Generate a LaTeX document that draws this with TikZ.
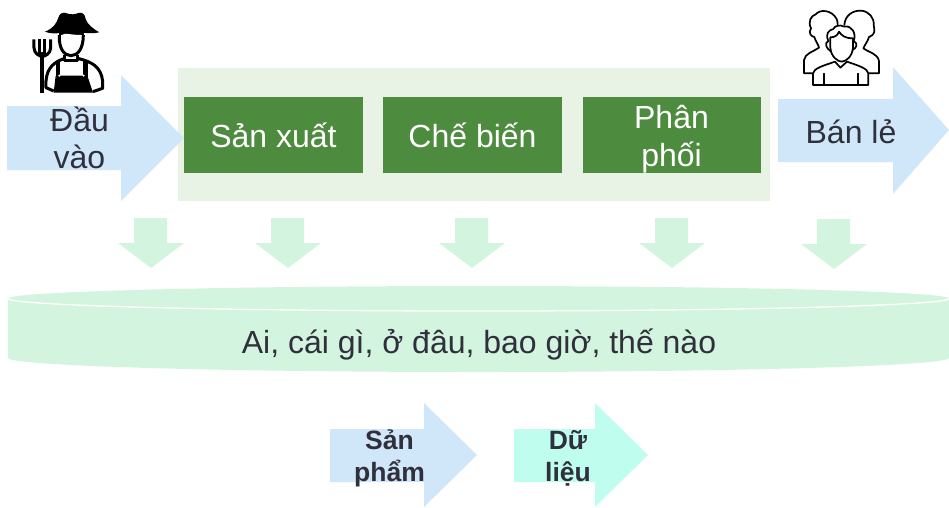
\documentclass[tikz,border=0pt]{standalone}
\usepackage{fontspec}
\setmainfont{Liberation Sans}
\definecolor{arrowblue}{HTML}{D0E6F9}
\definecolor{mint}{HTML}{BFFDEE}
\definecolor{pale}{HTML}{D3F4DE}
\definecolor{panel}{HTML}{E8F3E6}
\definecolor{boxgreen}{HTML}{4D8B3E}
\definecolor{ink}{HTML}{30303C}
\tikzset{
  big/.style={font=\fontsize{32}{37.5}\selectfont,text=ink,align=center,inner sep=0pt},
  boxlabel/.style={font=\fontsize{32}{38}\selectfont,text=white,align=center,inner sep=0pt},
  legendlabel/.style={font=\bfseries\fontsize{26.5}{32}\selectfont,text=ink,align=center,inner sep=0pt},
  stagebox/.style={draw=none,fill=boxgreen,minimum width=179pt,minimum height=76pt,inner sep=0pt},
  iconline/.style={draw=black,line width=1.7pt,line join=round,line cap=round},
  farmerline/.style={draw=black,line width=3pt,line join=round,line cap=butt},
}
\newcommand{\downarrowat}[2]{%
  \fill[pale] (#1-17,#2) -- (#1+16,#2) -- (#1+16,#2+25) -- (#1+33,#2+25) -- (#1,#2+50) -- (#1-33,#2+25) -- (#1-17,#2+25) -- cycle;}
\begin{document}
\begin{tikzpicture}[x=1pt,y=-1pt]
\useasboundingbox (0,0) rectangle (949,507);
% panel
\fill[panel] (178,68) rectangle (770,201);
% side arrows
\fill[arrowblue] (7,106) -- (121,106) -- (121,75) -- (184,138) -- (121,201) -- (121,170) -- (7,170) -- cycle;
\fill[arrowblue] (778,99) -- (893,99) -- (893,67) -- (949,130) -- (893,194) -- (893,162) -- (778,162) -- cycle;
% stage boxes
\node[stagebox] (prod) at (273.5,135) {};
\node[stagebox] (proc) at (472.5,135) {};
\node[stagebox,minimum width=178pt] (dist) at (672,135) {};
\node[boxlabel] (prodt) at (273.5,135.5) {Sản xuất};
\node[boxlabel] (proct) at (472.5,135.5) {Chế biến};
\node[boxlabel] (distt) at (671.5,139) {Phân\\phối};
\node[big] (input) at (79.5,138) {Đầu\\vào};
\node[big] (retail) at (851,132) {Bán lẻ};
% down arrows
\downarrowat{151}{218}
\downarrowat{288}{218}
\downarrowat{472}{218}
\downarrowat{672}{218}
\downarrowat{834}{219}
% cylinder
\fill[pale] (8,298.5) -- (8,358) arc[start angle=180,end angle=0,x radius=470.5,y radius=14] -- (949,298.5) -- cycle;
\fill[pale] (478.5,298.5) ellipse[x radius=470.5,y radius=12.5];
\draw[white,line width=1.3pt] (8,298.5) arc[start angle=180,end angle=0,x radius=470.5,y radius=12.5];
\node[big] (who) at (479,345) {Ai, cái gì, ở đâu, bao giờ, thế nào};
% legend
\fill[arrowblue] (330,429) -- (424,429) -- (424,403) -- (477,455) -- (424,507) -- (424,482) -- (330,482) -- cycle;
\fill[mint] (514,429) -- (595,429) -- (595,403) -- (648,455) -- (595,507) -- (595,482) -- (514,482) -- cycle;
\node[legendlabel] (lp) at (389.5,458) {Sản\\phẩm};
\node[legendlabel] (ld) at (568,458) {Dữ\\liệu};
% farmer icon
\begin{scope}[shift={(25,5)},x=0.3333pt,y=-0.3333pt]
  \fill[black] (60,80) .. controls (85,70) and (95,55) .. (100,38) .. controls (103,25) and (115,20) .. (125,25) .. controls (135,29) and (150,29) .. (160,24) .. controls (172,20) and (180,28) .. (182,42) .. controls (187,58) and (205,72) .. (223,82) .. controls (200,88) and (180,82) .. (140,82) .. controls (105,82) and (85,90) .. (60,80) -- cycle;
  \fill[black] (102,70) rectangle (176,92);
  \draw[farmerline,fill=white] (103,90) .. controls (101,130) and (117,152) .. (138,152) .. controls (159,152) and (175,130) .. (175,90);
  \fill[white] (110,90) .. controls (122,82) and (133,90) .. (168,90) -- (168,100) -- (110,100) -- cycle;
  % shoulders
  \draw[farmerline] (120,150) -- (120,166) -- (158,166) -- (158,150);
  \draw[farmerline] (120,160) .. controls (88,170) and (66,188) .. (63,228) -- (63,248) -- (86,258);
  \draw[farmerline] (158,160) .. controls (200,170) and (228,185) .. (233,228) -- (233,250) -- (204,260);
  % overalls
  \fill[black] (92,212) -- (187,212) -- (204,263) -- (86,263) -- cycle;
  \fill[black] (92,168) rectangle (106,215);
  \fill[black] (175,168) rectangle (189,215);
  \fill[white] (103,212) circle[radius=3.5];
  \fill[white] (176,212) circle[radius=3.5];
  % pitchfork
  \fill[black] (46,140) rectangle (58,263);
  \draw[black,line width=3pt] (27,103) -- (27,128) .. controls (27,146) and (44,154) .. (52,154) .. controls (60,154) and (77,146) .. (77,128) -- (77,103);
  \draw[black,line width=3pt] (44,103) -- (44,148);
  \draw[black,line width=3pt] (60,103) -- (60,148);
\end{scope}
% people icon
\begin{scope}[shift={(795,5)},x=0.3333pt,y=-0.3333pt]
  \draw[iconline] (52,205) -- (27,205) -- (27,165) .. controls (30,145) and (55,140) .. (72,128) .. controls (70,118) and (62,110) .. (58,96) .. controls (50,95) and (38,85) .. (48,70) .. controls (38,50) and (48,32) .. (62,28) .. controls (75,12) and (110,14) .. (125,42) .. controls (127,47) and (128,52) .. (128,58);
  \draw[iconline] (148,60) .. controls (150,30) and (175,15) .. (200,17) .. controls (222,20) and (238,38) .. (236,60) .. controls (236,68) and (240,72) .. (238,80) .. controls (235,90) and (228,94) .. (222,96) .. controls (218,110) and (210,118) .. (205,130) .. controls (220,142) and (248,145) .. (252,168) -- (252,205) -- (222,205);
  \draw[iconline] (108,140) .. controls (92,128) and (88,115) .. (100,108) .. controls (90,85) and (102,75) .. (115,72) .. controls (118,62) and (135,58) .. (148,65) .. controls (170,60) and (185,85) .. (176,108) .. controls (190,115) and (185,130) .. (172,135);
  \draw[iconline] (106,97) -- (106,128) .. controls (108,155) and (128,170) .. (140,170) .. controls (152,170) and (172,155) .. (174,128) -- (174,100) .. controls (150,100) and (140,92) .. (132,80) .. controls (128,92) and (118,97) .. (106,97);
  \draw[iconline] (54,240) -- (54,205) .. controls (56,190) and (85,182) .. (120,170) -- (136,188) -- (156,170) .. controls (190,182) and (218,190) .. (220,205) -- (220,240) -- cycle;
  \draw[iconline] (87,206) -- (87,240);
  \draw[iconline] (190,206) -- (190,240);
\end{scope}
\end{tikzpicture}
\end{document}
